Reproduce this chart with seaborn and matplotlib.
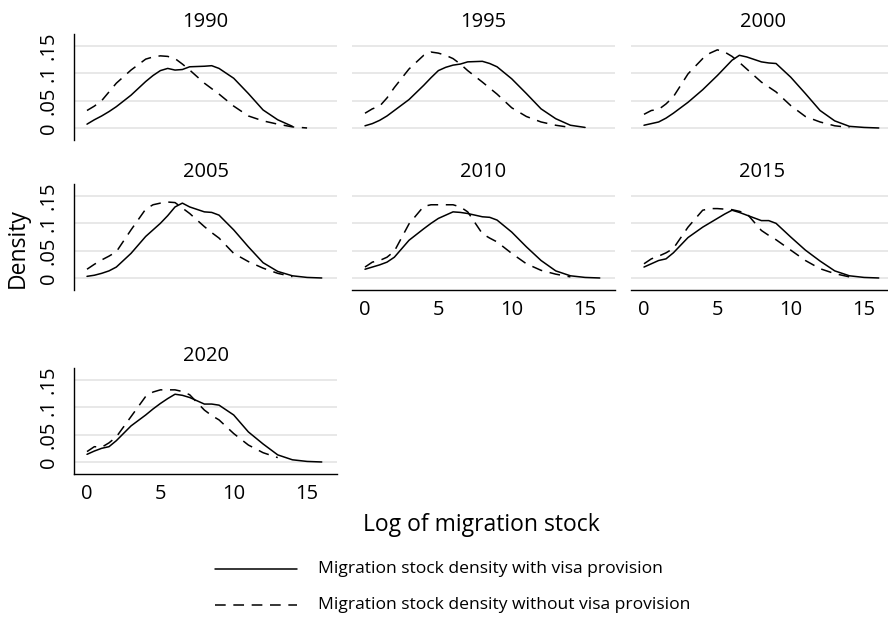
import numpy as np
import pandas as pd
import matplotlib
matplotlib.use("Agg")
import matplotlib.pyplot as plt
import seaborn as sns
from matplotlib.lines import Line2D

# --- Data ---
years = [1990, 1995, 2000, 2005, 2010, 2015, 2020]
grid = [0, 0.5, 1, 1.5, 2, 3, 4, 4.5, 5, 5.5, 6, 6.5, 7, 8, 8.5, 9, 10, 11, 12, 13, 14, 15, 16]
nan = np.nan

with_1990 = [0.007, 0.015, 0.022, 0.030, 0.039, 0.060, 0.085, 0.096, 0.105, 0.109, 0.106, 0.107, 0.112,
             0.113, 0.114, 0.109, 0.091, 0.063, 0.033, 0.015, 0.003, nan, nan]
without_1990 = [0.032, 0.040, 0.050, 0.066, 0.082, 0.106, 0.126, 0.130, 0.132, 0.131, 0.127, 0.117, 0.106,
                0.082, 0.072, 0.062, 0.040, 0.022, 0.013, 0.007, 0.002, 0.000, nan]
with_1995 = [0.004, 0.008, 0.014, 0.022, 0.032, 0.052, 0.078, 0.092, 0.105, 0.111, 0.115, 0.117, 0.121,
             0.122, 0.118, 0.112, 0.090, 0.063, 0.035, 0.017, 0.005, 0.001, nan]
without_1995 = [0.027, 0.035, 0.040, 0.055, 0.074, 0.108, 0.133, 0.139, 0.137, 0.133, 0.127, 0.117, 0.105,
                0.084, 0.073, 0.062, 0.037, 0.021, 0.011, 0.005, 0.001, nan, nan]
with_2000 = [0.005, 0.008, 0.011, 0.018, 0.027, 0.047, 0.070, 0.083, 0.096, 0.110, 0.124, 0.133, 0.130,
             0.121, 0.119, 0.118, 0.093, 0.063, 0.032, 0.013, 0.003, 0.001, 0.000]
without_2000 = [0.025, 0.032, 0.034, 0.044, 0.057, 0.099, 0.127, 0.137, 0.143, 0.139, 0.131, 0.120, 0.108,
                0.084, 0.075, 0.066, 0.041, 0.021, 0.011, 0.004, 0.001, nan, nan]
with_2005 = [0.003, 0.005, 0.0085, 0.013, 0.020, 0.045, 0.076, 0.088, 0.100, 0.114, 0.130, 0.137, 0.130,
             0.121, 0.120, 0.115, 0.088, 0.057, 0.028, 0.012, 0.004, 0.001, 0.000]
without_2005 = [0.016, 0.025, 0.033, 0.040, 0.048, 0.088, 0.126, 0.134, 0.137, 0.139, 0.138, 0.128, 0.118,
                0.094, 0.083, 0.073, 0.045, 0.030, 0.018, 0.0085, 0.0025, nan, nan]
with_2010 = [0.016, 0.020, 0.024, 0.029, 0.038, 0.069, 0.090, 0.100, 0.109, 0.115, 0.121, 0.120, 0.118,
             0.112, 0.111, 0.106, 0.084, 0.057, 0.032, 0.013, 0.004, 0.001, 0.000]
without_2010 = [0.020, 0.029, 0.032, 0.038, 0.049, 0.099, 0.131, 0.134, 0.134, 0.134, 0.134, 0.130, 0.121,
                0.081, 0.073, 0.066, 0.045, 0.026, 0.014, 0.007, 0.002, nan, nan]
with_2015 = [0.020, 0.026, 0.032, 0.035, 0.046, 0.074, 0.093, 0.101, 0.109, 0.117, 0.124, 0.120, 0.115,
             0.105, 0.105, 0.100, 0.075, 0.051, 0.031, 0.013, 0.004, 0.001, 0.000]
without_2015 = [0.026, 0.035, 0.040, 0.046, 0.054, 0.093, 0.124, 0.127, 0.127, 0.126, 0.125, 0.122, 0.118,
                0.087, 0.078, 0.070, 0.051, 0.032, 0.017, 0.008, 0.002, nan, nan]
with_2020 = [0.014, 0.020, 0.025, 0.028, 0.039, 0.066, 0.086, 0.097, 0.107, 0.116, 0.124, 0.122, 0.118,
             0.106, 0.106, 0.104, 0.086, 0.055, 0.033, 0.013, 0.004, 0.001, 0.000]
without_2020 = [0.019, 0.028, 0.027, 0.035, 0.046, 0.083, 0.120, 0.128, 0.132, 0.132, 0.132, 0.129, 0.123,
                0.095, 0.085, 0.077, 0.052, 0.031, 0.017, 0.008, nan, nan, nan]

WITH = "Migration stock density with visa provision"
WITHOUT = "Migration stock density without visa provision"

series_by_year = {
    1990: (with_1990, without_1990),
    1995: (with_1995, without_1995),
    2000: (with_2000, without_2000),
    2005: (with_2005, without_2005),
    2010: (with_2010, without_2010),
    2015: (with_2015, without_2015),
    2020: (with_2020, without_2020),
}

rows = []
for yr, (w, wo) in series_by_year.items():
    for label, vals in ((WITH, w), (WITHOUT, wo)):
        for xv, dv in zip(grid, vals):
            rows.append({"year": yr, "x": xv, "density": dv, "series": label})
df = pd.DataFrame(rows).dropna()

# --- Style ---
sns.set_theme(style="white")
plt.rcParams["font.family"] = ["Open Sans", "DejaVu Sans"]
plt.rcParams["text.color"] = "black"
plt.rcParams["xtick.color"] = "black"
plt.rcParams["ytick.color"] = "black"
plt.rcParams["axes.labelcolor"] = "black"

W, H = 888, 617
fig = plt.figure(figsize=(W / 100, H / 100), dpi=100)

col_left = [74, 352, 631]
row_top = [34, 184, 368]
ax_w, ax_h = 263, 106
dash = (7, 5)

for i, yr in enumerate(years):
    r, c = divmod(i, 3)
    left, top = col_left[c], row_top[r]
    ax = fig.add_axes([left / W, 1 - (top + ax_h) / H, ax_w / W, ax_h / H])
    sub = df[df["year"] == yr]
    sns.lineplot(data=sub, x="x", y="density", style="series", style_order=[WITH, WITHOUT],
                 dashes={WITH: "", WITHOUT: dash}, color="black", lw=1.1,
                 errorbar=None, legend=False, ax=ax)

    ax.set_xlim(-0.886, 17.04)
    ax.set_ylim(-0.022, 0.172)
    ax.set_yticks([0, 0.05, 0.1, 0.15])
    ax.set_xticks([0, 5, 10, 15])
    ax.yaxis.grid(True, color="#e6e6e6", lw=1.3)
    ax.xaxis.grid(False)
    ax.set_axisbelow(True)
    ax.set_xlabel("")
    ax.set_ylabel("")
    ax.set_title(str(yr), fontsize=14.5, pad=5, color="black")

    for s in ("top", "right"):
        ax.spines[s].set_visible(False)

    show_x = yr in (2010, 2015, 2020)
    show_y = c == 0
    ax.spines["left"].set_visible(show_y)
    ax.spines["bottom"].set_visible(show_x)
    for s in ("left", "bottom"):
        ax.spines[s].set_color("black")
        ax.spines[s].set_linewidth(1.0)

    ax.tick_params(axis="both", direction="out", length=5, width=1.0, color="black",
                   labelsize=14.5)
    ax.tick_params(axis="x", pad=2)
    ax.tick_params(axis="y", pad=6)
    if show_y:
        ax.set_yticklabels(["0", ".05", ".1", ".15"], rotation=90, va="center")
    else:
        ax.tick_params(axis="y", left=False, labelleft=False)
    if not show_x:
        ax.tick_params(axis="x", bottom=False, labelbottom=False)

# --- Shared labels ---
fig.text(18 / W, 1 - 248 / H, "Density", rotation=90, ha="center", va="center", fontsize=16.5)
fig.text(481 / W, 1 - 525 / H, "Log of migration stock", ha="center", va="center", fontsize=16.5)

# --- Legend ---
for y_px, lab, ls in ((569, WITH, "-"), (605, WITHOUT, (0, dash))):
    fig.add_artist(Line2D([215 / W, 297 / W], [1 - y_px / H, 1 - y_px / H],
                          transform=fig.transFigure, color="black", lw=1.1, linestyle=ls))
    fig.text(318 / W, 1 - y_px / H, lab, ha="left", va="center", fontsize=12.6)

fig.savefig("out.png", dpi=100)
